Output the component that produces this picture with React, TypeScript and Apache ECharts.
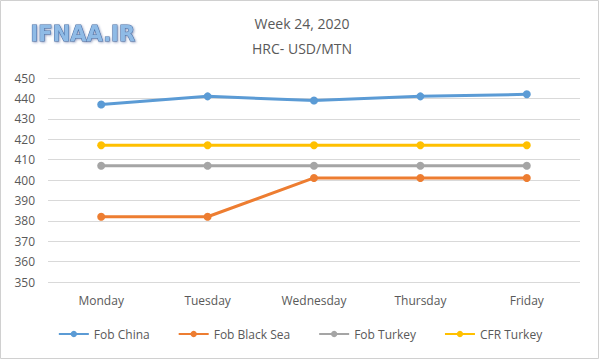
import React, { useEffect, useRef } from "react";
import * as echarts from "echarts";

const categories = ["Monday", "Tuesday", "Wednesday", "Thursday", "Friday"];
const fobChina = [437, 441, 439, 441, 442];
const fobBlackSea = [382, 382, 401, 401, 401];
const fobTurkey = [407, 407, 407, 407, 407];
const cfrTurkey = [417, 417, 417, 417, 417];
const seriesNames = ["Fob China", "Fob Black Sea", "Fob Turkey", "CFR Turkey"];
const colors = ["#5b9bd5", "#ed7d31", "#a5a5a5", "#ffc000"];

export default function App() {
  const ref = useRef<HTMLDivElement>(null);
  useEffect(() => {
    if (!ref.current) return;
    const chart = echarts.init(ref.current, undefined, { renderer: "svg" });
    const datas = [fobChina, fobBlackSea, fobTurkey, cfrTurkey];
    chart.setOption({
      animation: false,
      backgroundColor: "#ffffff",
      textStyle: { fontFamily: "'Open Sans', 'Noto Sans', sans-serif" },
      graphic: [
        {
          type: "rect",
          shape: { x: 0.5, y: 0.5, width: 598, height: 358 },
          style: { fill: "none", stroke: "#d0d0d0", lineWidth: 1 },
          silent: true,
        },
        {
          type: "text",
          left: 30,
          top: 23,
          style: {
            text: "IFNAA.IR",
            fill: "#8fbbe6",
            stroke: "#4a6fa5",
            lineWidth: 1,
            font: "bold 21px 'DejaVu Sans', sans-serif",
            textShadowColor: "rgba(60,80,140,0.5)",
            textShadowBlur: 2,
            textShadowOffsetX: 1,
            textShadowOffsetY: 1,
          },
        },
      ],
      title: {
        text: "Week 24, 2020\nHRC- USD/MTN",
        left: 297,
        textAlign: "center",
        top: 6,
        textStyle: {
          fontSize: 14,
          fontWeight: "normal",
          color: "#595959",
          lineHeight: 25,
          fontFamily: "'Open Sans', sans-serif",
        },
      },
      legend: {
        bottom: 15,
        left: "center",
        itemGap: 28,
        itemWidth: 30,
        itemHeight: 8,
        textStyle: { color: "#595959", fontSize: 12 },
        data: seriesNames,
      },
      grid: { left: 48, right: 20, top: 78, bottom: 78 },
      xAxis: {
        type: "category",
        data: categories,
        boundaryGap: true,
        axisLine: { show: false },
        axisTick: { show: false },
        axisLabel: { color: "#595959", fontSize: 12, margin: 12 },
      },
      yAxis: {
        type: "value",
        min: 350,
        max: 450,
        interval: 10,
        axisLine: { show: false },
        axisTick: { show: false },
        axisLabel: { color: "#595959", fontSize: 12, margin: 13 },
        splitLine: { lineStyle: { color: "#d9d9d9", width: 1 } },
      },
      series: datas.map((d, i) => ({
        name: seriesNames[i],
        type: "line",
        data: d,
        symbol: "circle",
        symbolSize: 8,
        color: colors[i],
        lineStyle: { width: 3, color: colors[i] },
        itemStyle: { color: colors[i] },
      })),
    });
    return () => chart.dispose();
  }, []);
  return (
    <div
      ref={ref}
      style={{ position: "fixed", left: 0, top: 0, width: 600, height: 360 }}
    />
  );
}
